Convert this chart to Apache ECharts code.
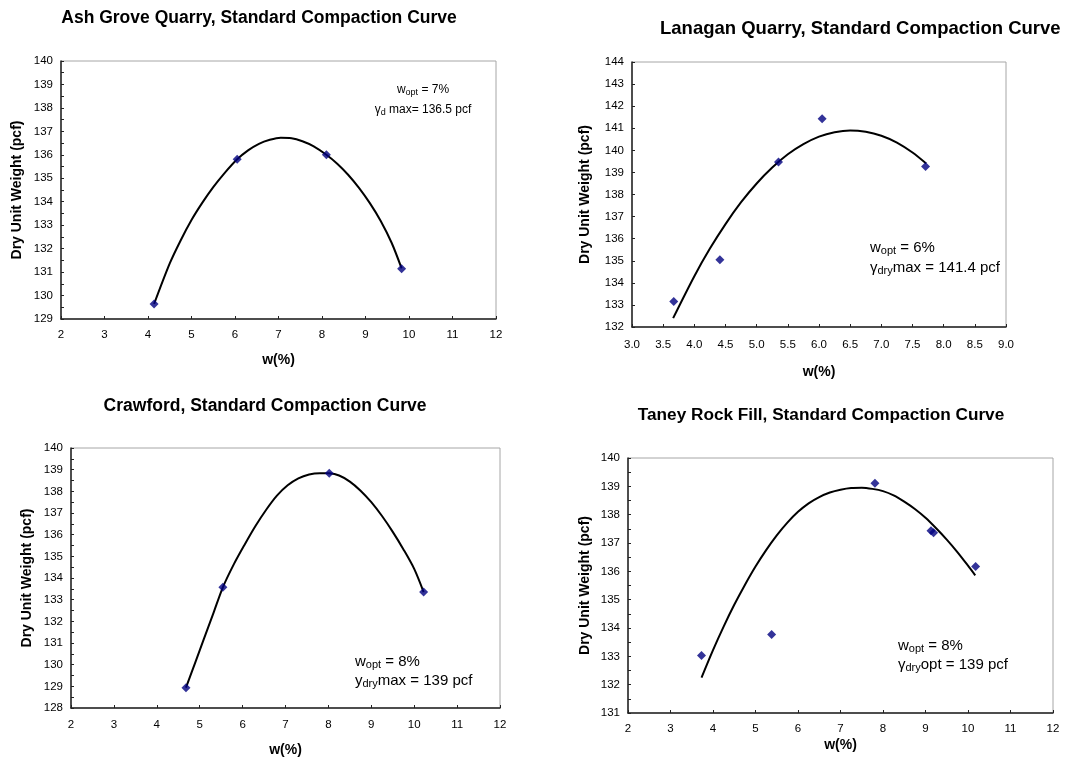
<!DOCTYPE html>
<html>
<head>
<meta charset="utf-8">
<script src="https://cdn.jsdelivr.net/npm/echarts@6/dist/echarts.min.js"></script>
<style>
html,body{margin:0;padding:0;background:#fff;}
#chart{width:1086px;height:762px;}
</style>
</head>
<body>
<div id="chart"></div>
<script>
// ---------- DATA ----------
const titles = [
  'Ash Grove Quarry, Standard Compaction Curve',
  'Lanagan Quarry, Standard Compaction Curve',
  'Crawford, Standard Compaction Curve',
  'Taney Rock Fill, Standard Compaction Curve'
];
// measured points
const ashW   = [4.14, 6.05, 8.10, 9.83];
const ashDry = [129.64, 135.81, 136.0, 131.14];
const lanW   = [3.67, 4.41, 5.35, 6.05, 7.71];
const lanDry = [133.15, 135.04, 139.47, 141.43, 139.27];
const craW   = [4.68, 5.54, 8.02, 10.22];
const craDry = [128.94, 133.57, 138.83, 133.35];
const tanW   = [3.73, 5.38, 7.81, 9.13, 9.19, 10.18];
const tanDry = [133.03, 133.77, 139.11, 137.43, 137.36, 136.17];
// fitted curves
const ashCurveW   = [4.14, 4.50, 4.75, 5.00, 5.25, 5.50, 5.75, 6.05, 6.30, 6.55, 6.80, 7.05, 7.30, 7.55, 7.80, 8.10, 8.35, 8.60, 8.85, 9.10, 9.35, 9.60, 9.83];
const ashCurveDry = [129.64, 131.37, 132.35, 133.22, 133.96, 134.62, 135.20, 135.81, 136.19, 136.47, 136.64, 136.73, 136.71, 136.58, 136.37, 136.00, 135.62, 135.15, 134.59, 133.94, 133.18, 132.25, 131.16];
const lanCurveW   = [3.66, 4.00, 4.25, 4.50, 4.75, 5.00, 5.25, 5.50, 5.75, 6.00, 6.25, 6.50, 6.75, 7.00, 7.25, 7.50, 7.72];
const lanCurveDry = [132.40, 134.30, 135.55, 136.66, 137.65, 138.50, 139.22, 139.82, 140.28, 140.62, 140.82, 140.90, 140.84, 140.66, 140.35, 139.90, 139.40];
const craCurveW   = [4.68, 4.90, 5.10, 5.32, 5.54, 5.80, 6.05, 6.30, 6.55, 6.80, 7.05, 7.30, 7.55, 7.80, 8.02, 8.25, 8.50, 8.75, 9.00, 9.25, 9.50, 9.75, 10.00, 10.22];
const craCurveDry = [128.94, 130.12, 131.20, 132.38, 133.57, 134.65, 135.55, 136.40, 137.15, 137.80, 138.28, 138.60, 138.78, 138.84, 138.83, 138.73, 138.45, 138.03, 137.50, 136.86, 136.13, 135.32, 134.42, 133.35];
const tanCurveW   = [3.73, 4.00, 4.25, 4.50, 4.75, 5.00, 5.25, 5.50, 5.75, 6.00, 6.25, 6.50, 6.75, 7.00, 7.25, 7.50, 7.75, 8.00, 8.25, 8.50, 8.75, 9.00, 9.25, 9.50, 9.75, 10.00, 10.17];
const tanCurveDry = [132.25, 133.22, 134.05, 134.82, 135.52, 136.17, 136.75, 137.27, 137.72, 138.10, 138.40, 138.62, 138.78, 138.88, 138.94, 138.95, 138.91, 138.83, 138.68, 138.46, 138.20, 137.89, 137.52, 137.12, 136.68, 136.20, 135.86];
// axis ranges [min, max, interval]
const xRanges = [[2, 12, 1], [3, 9, 0.5], [2, 12, 1], [2, 12, 1]];
const yRanges = [[129, 140, 1], [132, 144, 1], [128, 140, 1], [131, 140, 1]];
const xName = 'w(%)';
const yName = 'Dry Unit Weight (pcf)';

// ---------- LAYOUT ----------
const FONT = '"Liberation Sans", Arial, sans-serif';
const grids = [
  {left: 61, top: 61, width: 435, height: 258},
  {left: 632, top: 62, width: 374, height: 265},
  {left: 71, top: 448, width: 429, height: 260},
  {left: 628, top: 458, width: 425, height: 255}
];
const titleCfg = [
  {left: 254, top: 4, textAlign: 'center', size: 17.5},
  {left: 655, top: 14, textAlign: 'left', size: 18.5},
  {left: 260, top: 392, textAlign: 'center', size: 17.5},
  {left: 816, top: 402, textAlign: 'center', size: 17.2}
];
const yNameGap = [37, 40, 37, 36];
const xNameGap = [34, 38, 35, 25];
const xLabelMargin = [10, 12, 11, 10];
const minorY = [true, false, true, true];

const pair = (a, b) => a.map((v, i) => [v, b[i]]);
const points = [pair(ashW, ashDry), pair(lanW, lanDry), pair(craW, craDry), pair(tanW, tanDry)];
const curves = [pair(ashCurveW, ashCurveDry), pair(lanCurveW, lanCurveDry), pair(craCurveW, craCurveDry), pair(tanCurveW, tanCurveDry)];

const option = {
  backgroundColor: '#ffffff',
  animation: false,
  textStyle: {fontFamily: FONT},
  title: titles.map((t, i) => ({
    text: t, left: titleCfg[i].left, top: titleCfg[i].top, textAlign: titleCfg[i].textAlign,
    textStyle: {fontFamily: FONT, fontSize: titleCfg[i].size, fontWeight: 'bold', color: '#000'}
  })),
  grid: grids.map(g => Object.assign({show: true, borderColor: '#a6a6a6', borderWidth: 1, backgroundColor: '#fff'}, g)),
  xAxis: xRanges.map((r, i) => ({
    type: 'value', gridIndex: i, min: r[0], max: r[1], interval: r[2],
    name: xName, nameLocation: 'middle', nameGap: xNameGap[i],
    nameTextStyle: {fontFamily: FONT, fontSize: 14, fontWeight: 'bold', color: '#000'},
    axisLine: {show: true, lineStyle: {color: '#222', width: 1.5}},
    axisTick: {show: true, inside: true, length: 3, lineStyle: {color: '#222'}},
    splitLine: {show: false},
    axisLabel: {fontFamily: FONT, fontSize: 11.5, color: '#000', margin: xLabelMargin[i],
      formatter: v => (r[2] < 1 ? v.toFixed(1) : String(v))}
  })),
  yAxis: yRanges.map((r, i) => ({
    type: 'value', gridIndex: i, min: r[0], max: r[1], interval: r[2],
    name: yName, nameLocation: 'middle', nameGap: yNameGap[i],
    nameTextStyle: {fontFamily: FONT, fontSize: 14, fontWeight: 'bold', color: '#000'},
    axisLine: {show: true, lineStyle: {color: '#222', width: 1.5}},
    axisTick: {show: true, inside: true, length: 3, lineStyle: {color: '#222'}},
    minorTick: {show: minorY[i], splitNumber: 2, length: 3, lineStyle: {color: '#222'}},
    splitLine: {show: false},
    axisLabel: {fontFamily: FONT, fontSize: 11.5, color: '#000', margin: 8}
  })),
  series: []
};
for (let i = 0; i < 4; i++) {
  option.series.push({
    type: 'line', xAxisIndex: i, yAxisIndex: i, data: curves[i], smooth: 0.3,
    showSymbol: false, symbol: 'none', lineStyle: {color: '#000', width: 2}, z: 2
  });
  option.series.push({
    type: 'scatter', xAxisIndex: i, yAxisIndex: i, data: points[i],
    symbol: 'diamond', symbolSize: 9, itemStyle: {color: '#000080'}, z: 3
  });
}
const richSmall = {
  a: {fontFamily: FONT, fontSize: 12, color: '#000', lineHeight: 16},
  s: {fontFamily: FONT, fontSize: 9, color: '#000', lineHeight: 16, padding: [5, 0, 0, 0]}
};
const richBig = {
  a: {fontFamily: FONT, fontSize: 15, color: '#000', lineHeight: 18},
  s: {fontFamily: FONT, fontSize: 11, color: '#000', lineHeight: 18, padding: [6, 0, 0, 0]}
};
const notes = [
  {x: 423, y: 82, align: 'center', rich: richSmall, gap: 20, lines: ['{a|w}{s|opt}{a| = 7%}', '{a|γ}{s|d}{a| max= 136.5 pcf}']},
  {x: 870, y: 239, align: 'left', rich: richBig, gap: 20, lines: ['{a|w}{s|opt}{a| = 6%}', '{a|γ}{s|dry}{a|max = 141.4 pcf}']},
  {x: 355, y: 653, align: 'left', rich: richBig, gap: 19, lines: ['{a|w}{s|opt}{a| = 8%}', '{a|y}{s|dry}{a|max = 139 pcf}']},
  {x: 898, y: 637, align: 'left', rich: richBig, gap: 19, lines: ['{a|w}{s|opt}{a| = 8%}', '{a|γ}{s|dry}{a|opt = 139 pcf}']}
];
option.graphic = [];
notes.forEach(n => {
  n.lines.forEach((l, k) => {
    option.graphic.push({
      type: 'text', x: n.x, y: n.y + k * n.gap, z: 10,
      style: {text: l, rich: n.rich, align: n.align, verticalAlign: 'top'}
    });
  });
});
const chart = echarts.init(document.getElementById('chart'), null, {renderer: 'canvas'});
chart.setOption(option);
</script>
</body>
</html>
